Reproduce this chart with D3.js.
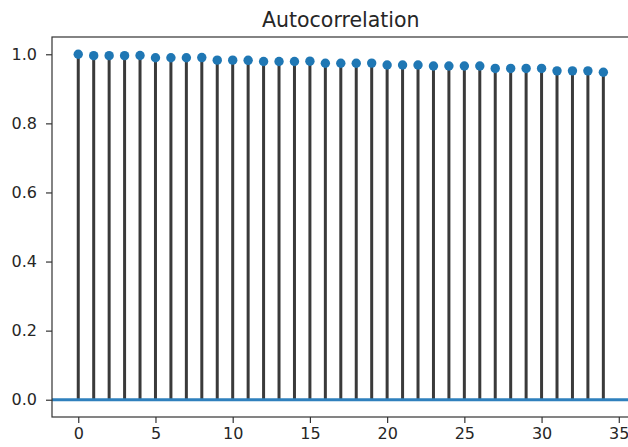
<!DOCTYPE html>
<html>
<head>
<meta charset="utf-8">
<script src="https://cdn.jsdelivr.net/npm/d3@7"></script>
<style>
  html, body { margin: 0; padding: 0; background: #fff; }
  svg { display: block; }
  text { font-family: "DejaVu Sans", sans-serif; fill: #262626; }
</style>
</head>
<body>
<svg id="chart" width="628" height="447"></svg>
<script>
const lags = d3.range(0, 35);
const acfValues = [
  1.000, 0.996, 0.996, 0.996, 0.9965, 0.990, 0.990, 0.990, 0.9905,
  0.983, 0.983, 0.9825, 0.979, 0.979, 0.979, 0.980, 0.974, 0.974,
  0.974, 0.9745, 0.969, 0.969, 0.969, 0.966, 0.966, 0.966, 0.966,
  0.959, 0.959, 0.959, 0.959, 0.952, 0.952, 0.952, 0.948
];
const xTicks = [0, 5, 10, 15, 20, 25, 30, 35];
const yTicks = [0.0, 0.2, 0.4, 0.6, 0.8, 1.0];
const chartTitle = "Autocorrelation";

const svg = d3.select("#chart");
const mLeft = 52, mRight = 629.6, mTop = 37, mBottom = 417;

const x = d3.scaleLinear().domain([-1.7, 35.7]).range([mLeft, mRight]);
const y = d3.scaleLinear().domain([-0.05, 1.05]).range([mBottom, mTop]);

const g = svg.append("g");

// stems
g.selectAll("line.stem").data(lags).enter().append("line")
  .attr("class", "stem")
  .attr("x1", d => x(d)).attr("x2", d => x(d))
  .attr("y1", y(0)).attr("y2", (d, i) => y(acfValues[i]))
  .attr("stroke", "#3a3a3a").attr("stroke-width", 3);

// zero line
g.append("line")
  .attr("x1", mLeft).attr("x2", mRight)
  .attr("y1", y(0)).attr("y2", y(0))
  .attr("stroke", "#2f80bd").attr("stroke-width", 2.8);

// markers
g.selectAll("circle").data(lags).enter().append("circle")
  .attr("cx", d => x(d)).attr("cy", (d, i) => y(acfValues[i]))
  .attr("r", 4.7).attr("fill", "#1f77b4");

// axes
const xAxis = d3.axisBottom(x).tickValues(xTicks).tickFormat(d3.format("d"))
  .tickSize(6).tickPadding(5);
const yAxis = d3.axisLeft(y).tickValues(yTicks).tickFormat(d3.format(".1f"))
  .tickSize(6).tickPadding(9);

const gx = svg.append("g").attr("transform", `translate(0,${mBottom})`).call(xAxis);
const gy = svg.append("g").attr("transform", `translate(${mLeft},0)`).call(yAxis);
[gx, gy].forEach(a => {
  a.select(".domain").remove();
  a.selectAll(".tick line").attr("stroke", "#333").attr("stroke-width", 1.2);
  a.selectAll(".tick text").style("font-family", "DejaVu Sans").style("font-size", "16px").attr("fill", "#262626");
});

// spines
const sp = svg.append("g").attr("fill", "none").attr("stroke", "#333").attr("stroke-width", 1.2);
sp.append("rect").attr("x", mLeft).attr("y", mTop).attr("width", mRight - mLeft).attr("height", mBottom - mTop);

// title
svg.append("text")
  .attr("x", (mLeft + mRight) / 2).attr("y", 26.5)
  .attr("text-anchor", "middle")
  .style("font-size", "20.5px")
  .text(chartTitle);
</script>
</body>
</html>
